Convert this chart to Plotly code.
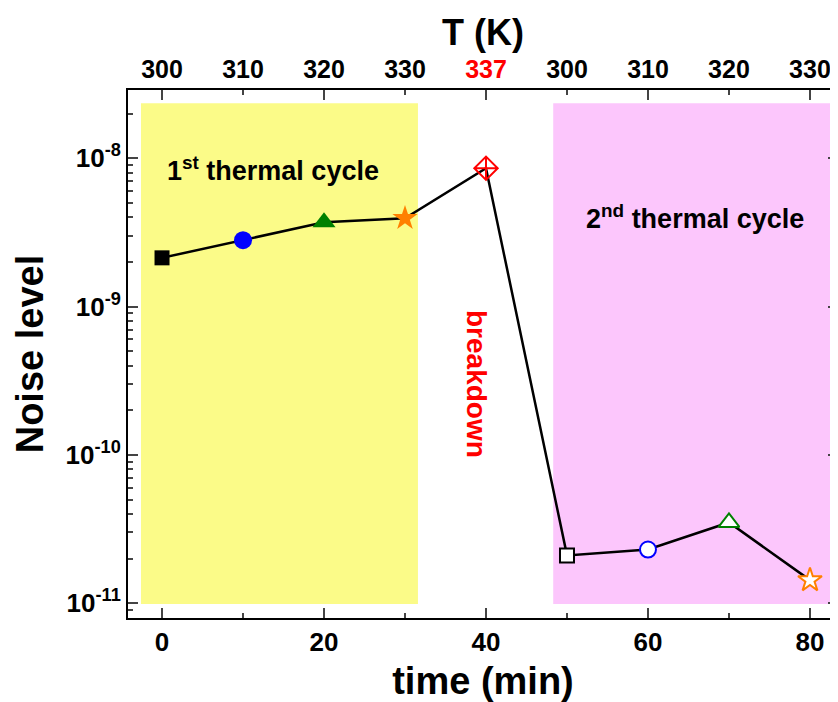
import plotly.graph_objects as go

time_min = [0, 10, 20, 30, 40, 50, 60, 70, 80]
noise = [2.13e-9, 2.80e-9, 3.70e-9, 3.94e-9, 8.56e-9, 2.10e-11, 2.30e-11, 3.50e-11, 1.43e-11]
symbols = ["square", "circle", "triangle-up", "star", "diamond-cross-open",
           "square", "circle", "triangle-up", "star"]
colors = ["black", "blue", "green", "#ff8000", "red", "black", "blue", "green", "#ff8000"]
fills = ["black", "blue", "green", "#ff8000", "red", "white", "white", "white", "white"]
sizes = [15, 18, 20, 19, 18, 14, 16, 18, 18]
line_w = [0, 0, 0, 0, 2, 2, 2, 2, 2]

bottom_ticks = [0, 20, 40, 60, 80]
top_tickvals = [0, 10, 20, 30, 40, 50, 60, 70, 80]
top_ticktext = ["300", "310", "320", "330", "<span style='color:red'>337</span>",
                "300", "310", "320", "330"]
y_tickvals = [1e-11, 1e-10, 1e-9, 1e-8]
y_ticktext = ["10<sup>-11</sup>", "10<sup>-10</sup>", "10<sup>-9</sup>", "10<sup>-8</sup>"]

FONT = "Liberation Sans, Arial, sans-serif"

fig = go.Figure()

fig.add_trace(go.Scatter(x=time_min, y=noise, mode="lines",
                         line=dict(color="black", width=2.5), showlegend=False, hoverinfo="skip"))
for xi, yi, s, c, f, sz, lw in zip(time_min, noise, symbols, colors, fills, sizes, line_w):
    fig.add_trace(go.Scatter(
        x=[xi], y=[yi], mode="markers", showlegend=False,
        marker=dict(symbol=s, size=sz, color=f, line=dict(color=c, width=lw)),
    ))
fig.add_trace(go.Scatter(x=[0, 80], y=[1e-9, 1e-9], xaxis="x2", mode="markers",
                         marker=dict(opacity=0), showlegend=False, hoverinfo="skip"))

fig.add_shape(type="rect", xref="x", yref="paper", x0=-2.6, x1=31.6, y0=0.0265, y1=0.975,
              fillcolor="#fbfb88", line=dict(width=0), layer="below")
fig.add_shape(type="rect", xref="x", yref="paper", x0=48.3, x1=83.46, y0=0.0265, y1=0.975,
              fillcolor="#fcc6fc", line=dict(width=0), layer="below")

fig.add_annotation(x=13.7, y=0.886, xref="x", yref="paper", showarrow=False,
                   text="1<sup>st</sup> thermal cycle",
                   font=dict(family=FONT, size=27, color="black", weight="bold"))
fig.add_annotation(x=65.8, y=0.796, xref="x", yref="paper", showarrow=False,
                   text="2<sup>nd</sup> thermal cycle",
                   font=dict(family=FONT, size=27, color="black", weight="bold"))
fig.add_annotation(x=38.9, y=0.443, xref="x", yref="paper", showarrow=False,
                   text="breakdown", textangle=90,
                   font=dict(family=FONT, size=28, color="red", weight="bold"))

tickfont = dict(size=26, family=FONT, weight="bold", color="black")
toptickfont = dict(size=25, family=FONT, weight="bold", color="black")
titlefont = dict(size=38, family=FONT, weight="bold", color="black")

# top axis title as annotation
fig.add_annotation(x=39.6, y=1.108, xref="x", yref="paper", showarrow=False,
                   text="T (K)", yanchor="middle",
                   font=dict(size=36, family=FONT, weight="bold", color="black"))

fig.update_layout(
    width=830, height=694,
    margin=dict(l=120, r=0, t=82, b=84, autoexpand=False),
    plot_bgcolor="white", paper_bgcolor="white",
    font=dict(family=FONT, color="black"),
    xaxis=dict(range=[-4.2, 83.46], tickvals=bottom_ticks, ticks="inside", ticklen=10,
               tickwidth=2, showline=True, linewidth=2, linecolor="black", mirror="ticks",
               showgrid=False, zeroline=False, automargin=False,
               minor=dict(dtick=10, tick0=0, ticks="inside", ticklen=5, tickwidth=2, showgrid=False),
               tickfont=tickfont,
               title=dict(text="time (min)", font=titlefont, standoff=11)),
    xaxis2=dict(range=[-4.2, 83.46], overlaying="x", side="top", tickvals=top_tickvals,
                ticktext=top_ticktext, ticks="", showline=False, showgrid=False, zeroline=False,
                automargin=False, tickfont=toptickfont, ticklabelstandoff=6),
    yaxis=dict(type="log", range=[-11.10, -7.54], tickvals=y_tickvals, ticktext=y_ticktext,
               ticks="inside", ticklen=10, tickwidth=2, showline=True, linewidth=2,
               linecolor="black", mirror="ticks", showgrid=False, zeroline=False, automargin=False,
               minor=dict(tickvals=[m * 10.0 ** e for e in range(-12, -7) for m in range(2, 10)],
                          ticks="inside", ticklen=5, tickwidth=2, showgrid=False),
               tickfont=tickfont,
               title=dict(text="Noise level", font=titlefont, standoff=10)),
)

fig.write_html("out.html")
